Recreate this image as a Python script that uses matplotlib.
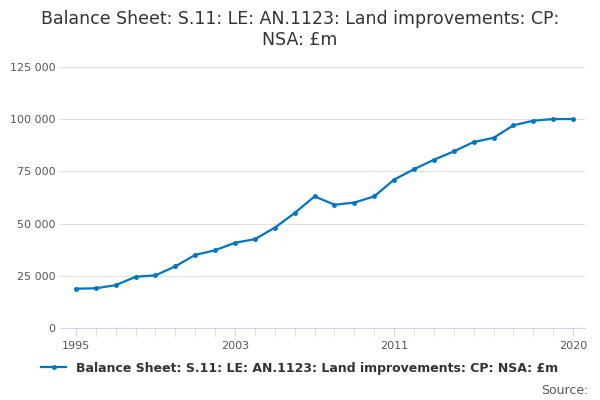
import matplotlib
matplotlib.use("Agg")
import matplotlib.pyplot as plt
from matplotlib.ticker import FuncFormatter

years = list(range(1995, 2021))
values = [18800, 19000, 20500, 24500, 25200, 29500, 35000, 37200, 40800, 42500,
          48000, 55000, 63000, 59000, 60000, 63000, 71000, 76000, 80500, 84500,
          89000, 91000, 97000, 99200, 100000, 100000]
label = "Balance Sheet: S.11: LE: AN.1123: Land improvements: CP: NSA: £m"

fig = plt.figure(figsize=(6, 4), dpi=100)
ax = fig.add_axes([0.1, 0.18, 0.875, 0.653])
ax.plot(years, values, color="#0075c0", lw=1.6, marker="o", ms=2.5, label=label)
ax.set_ylim(0, 125000)
ax.set_xlim(1994.2, 2020.6)
ax.set_yticks(range(0, 125001, 25000))
ax.yaxis.set_major_formatter(FuncFormatter(lambda v, p: f"{int(v):,}".replace(",", " ")))
ax.set_xticks(years, minor=True)
ax.set_xticks([1995, 2003, 2011, 2020])
ax.grid(axis="y", color="#e0e0e0", lw=0.8)
for s in ["top", "right", "left"]:
    ax.spines[s].set_visible(False)
ax.spines["bottom"].set_color("#ccd6eb")
ax.tick_params(axis="y", length=0, labelsize=8, colors="#555555")
ax.tick_params(axis="x", which="both", length=6, color="#ccd6eb", labelsize=8, labelcolor="#555555")
fig.suptitle("Balance Sheet: S.11: LE: AN.1123: Land improvements: CP:\nNSA: £m",
             y=0.975, fontsize=12.5, color="#333333")
fig.legend(loc="lower center", bbox_to_anchor=(0.5, 0.035), frameon=False,
           prop={"size": 9, "weight": "bold"}, labelcolor="#333333", handlelength=2)
fig.text(0.98, 0.015, "Source:", ha="right", fontsize=9, color="#555555")
fig.savefig("out.png")
